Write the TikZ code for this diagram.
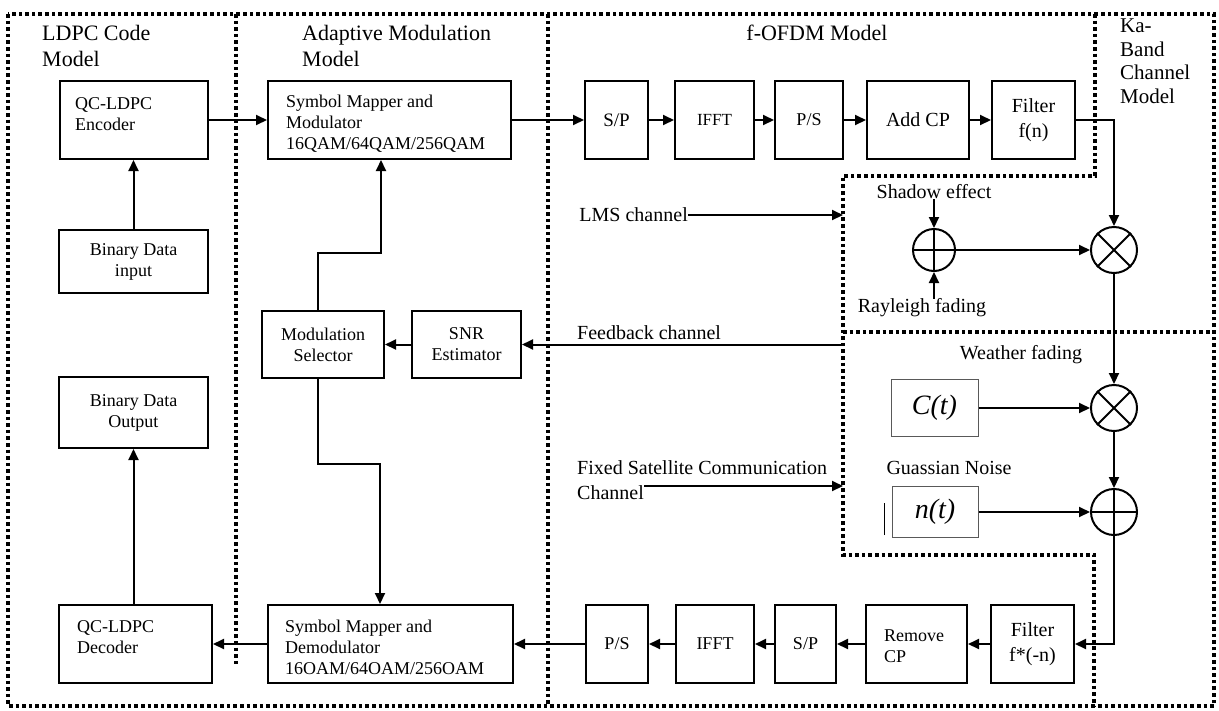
\documentclass[tikz,border=0pt]{standalone}
\usepackage{fontspec}
\setmainfont{Liberation Serif}
\usetikzlibrary{arrows.meta,calc}
\newcommand\ttlf{\fontsize{22}{26}\selectfont}
\newcommand\kaf{\fontsize{21}{23.5}\selectfont}
\newcommand\bxf{\fontsize{18}{21}\selectfont}
\newcommand\bgf{\fontsize{20}{25}\selectfont}
\newcommand\lbf{\fontsize{20}{25}\selectfont}
\newcommand\mathf{\fontsize{28}{30}\selectfont\itshape}
\begin{document}
\begin{tikzpicture}[x=1pt,y=-1pt,
  box/.style={draw,line width=2pt,inner sep=0pt,minimum height=78pt,align=center},
  thinbox/.style={draw=black!65,line width=1pt,inner sep=0pt},
  dots/.style={line width=3.6pt,dash pattern=on 3.6pt off 3pt},
  conn/.style={line width=2pt,-{Triangle[length=11pt,width=10pt]}},
  txt/.style={inner sep=0pt,align=left},
  sumnode/.style={circle,draw,line width=2pt,inner sep=0pt,minimum size=46pt}]
\useasboundingbox (0,0) rectangle (1219,710);
% dotted region borders
\draw[dots] (8,14) rectangle (1214,706);
\draw[dots] (236,14) -- (236,665);
\draw[dots] (548,14) -- (548,706);
\draw[dots] (1095,14) -- (1095,176) -- (843,176) -- (843,555) -- (1094,555) -- (1094,706);
\draw[dots] (843,332) -- (1214,332);
% titles
\node[txt,anchor=west,font=\ttlf] (tldpc) at (42,46) {LDPC Code\\Model};
\node[txt,anchor=west,font=\ttlf] (tadm) at (302,46) {Adaptive Modulation\\Model};
\node[txt,font=\ttlf] (tofdm) at (817,33) {f-OFDM Model};
\node[txt,anchor=west,font=\kaf] (tka) at (1120,61) {Ka-\\Band\\Channel\\Model};
% top row
\node[box,minimum width=148pt] (enc) at (133.5,120) {};
\node[txt,anchor=west,font=\bxf] (encT) at (75,114) {QC-LDPC\\Encoder};
\node[box,minimum width=243pt] (sym) at (389.5,120) {};
\node[txt,anchor=west,font=\bxf] (symT) at (286,124) {Symbol Mapper and\\Modulator\\16QAM/64QAM/256QAM};
\node[box,minimum width=63pt,font=\fontsize{19}{22}\selectfont] (sp1) at (616.5,120) {S/P};
\node[box,minimum width=79pt,font=\fontsize{17}{20}\selectfont] (ifft1) at (714.5,120) {IFFT};
\node[box,minimum width=68pt,font=\fontsize{18}{21}\selectfont] (ps1) at (809,120) {P/S};
\node[box,minimum width=102pt,font=\bgf] (addcp) at (918,120) {Add CP};
\node[box,minimum width=83pt,font=\bgf] (filt1) at (1033.5,120) {Filter\\f(n)};
% left column
\node[box,minimum width=149pt,minimum height=63pt,font=\bxf] (binin) at (133.5,261.5) {Binary Data\\input};
\node[box,minimum width=149pt,minimum height=71pt,font=\bxf] (binout) at (133.5,412.5) {Binary Data\\Output};
\node[box,minimum width=122pt,minimum height=67pt,font=\bxf] (modsel) at (323,344.5) {Modulation\\Selector};
\node[box,minimum width=109pt,minimum height=67pt,font=\bxf] (snr) at (466.5,344.5) {SNR\\Estimator};
% bottom row
\node[box,minimum width=153pt] (dec) at (135.5,644) {};
\node[txt,anchor=west,font=\bxf] (decT) at (77,637) {QC-LDPC\\Decoder};
\node[box,minimum width=245pt] (demod) at (390.5,644) {};
\node[txt,anchor=west,font=\bxf] (demodT) at (285,647) {Symbol Mapper and\\Demodulator\\16OAM/64OAM/256OAM};
\node[box,minimum width=62pt,font=\bxf] (ps2) at (617,644) {P/S};
\node[box,minimum width=78pt,font=\bxf] (ifft2) at (715,644) {IFFT};
\node[box,minimum width=61pt,font=\bxf] (sp2) at (805.5,644) {S/P};
\node[box,minimum width=101pt] (rmcp) at (916.5,644) {};
\node[txt,anchor=west,font=\bxf] (rmcpT) at (884,646.5) {Remove\\CP};
\node[box,minimum width=83pt,font=\bgf] (filt2) at (1032.5,644) {Filter\\f*(-n)};
% channel labels
\node[txt,anchor=east,font=\lbf] (lms) at (688,215) {LMS channel};
\coordinate (lmsend) at (843,215);
\node[txt,anchor=west,font=\lbf] (fbT) at (577,333) {Feedback channel};
\coordinate (fb) at (843,344.5);
\node[txt,anchor=west,font=\lbf] (fsc1) at (577,468) {Fixed Satellite Communication};
\node[txt,anchor=west,font=\lbf] (fsc2) at (577,493) {Channel};
\coordinate (fscend) at (843,486);
% Ka-band channel
\node[txt,font=\lbf] (sh) at (934,192) {Shadow effect};
\node[txt,font=\lbf] (ray) at (922,308) {Rayleigh fading};
\node[sumnode,minimum size=42pt] (p1) at (934,250) {};
\node[sumnode] (t1) at (1114,250) {};
\node[txt,font=\lbf] (wf) at (1021,355) {Weather fading};
\node[thinbox,minimum width=87pt,minimum height=57pt,font=\mathf] (ct) at (934.5,408) {C(t)};
\node[sumnode] (t2) at (1114,408) {};
\node[txt,font=\lbf] (gn) at (949,468) {Guassian Noise};
\node[thinbox,minimum width=86pt,minimum height=51pt,font=\mathf] (nt) at (935,512) {n(t)};
\node[sumnode] (p2) at (1114,512) {};
\draw[line width=2pt] (p1.north) -- (p1.south) (p1.west) -- (p1.east);
\draw[line width=2pt] (p2.north) -- (p2.south) (p2.west) -- (p2.east);
\draw[line width=2pt] (t1.north west) -- (t1.south east) (t1.north east) -- (t1.south west);
\draw[line width=2pt] (t2.north west) -- (t2.south east) (t2.north east) -- (t2.south west);
\draw[line width=1.5pt] ([xshift=-7pt,yshift=3pt]nt.south west) -- ([xshift=-7pt,yshift=35pt]nt.south west);
% connectors
\draw[conn] (enc) -- (sym);
\draw[conn] (sym) -- (sp1);
\draw[conn] (sp1) -- (ifft1);
\draw[conn] (ifft1) -- (ps1);
\draw[conn] (ps1) -- (addcp);
\draw[conn] (addcp) -- (filt1);
\draw[conn] (filt1.east) -| (t1.north);
\draw[conn] (binin) -- (enc);
\draw[conn] (lms.east) -- (lmsend);
\draw[conn] (fsc2.east |- fscend) -- (fscend);
\draw[conn] (fb) -- (snr);
\draw[conn] (snr) -- (modsel);
\coordinate (j1) at (381,253);
\draw[conn] ([xshift=-5pt]modsel.north) |- (j1) -- (j1 |- sym.south);
\coordinate (j2) at (380,464);
\draw[conn] ([xshift=-5pt]modsel.south) |- (j2) -- (j2 |- demod.north);
\draw[conn] (sh) -- (p1);
\draw[conn] (p1.south |- ray.north) -- (p1.south);
\draw[conn] (p1) -- (t1);
\draw[conn] (t1) -- (t2);
\draw[conn] (ct) -- (t2);
\draw[conn] (t2) -- (p2);
\draw[conn] (nt) -- (p2);
\draw[conn] (p2.south) |- (filt2.east);
\draw[conn] (filt2) -- (rmcp);
\draw[conn] (rmcp) -- (sp2);
\draw[conn] (sp2) -- (ifft2);
\draw[conn] (ifft2) -- (ps2);
\draw[conn] (ps2) -- (demod);
\draw[conn] (demod) -- (dec);
\draw[conn] (dec.north -| binout.south) -- (binout.south);
\end{tikzpicture}
\end{document}
